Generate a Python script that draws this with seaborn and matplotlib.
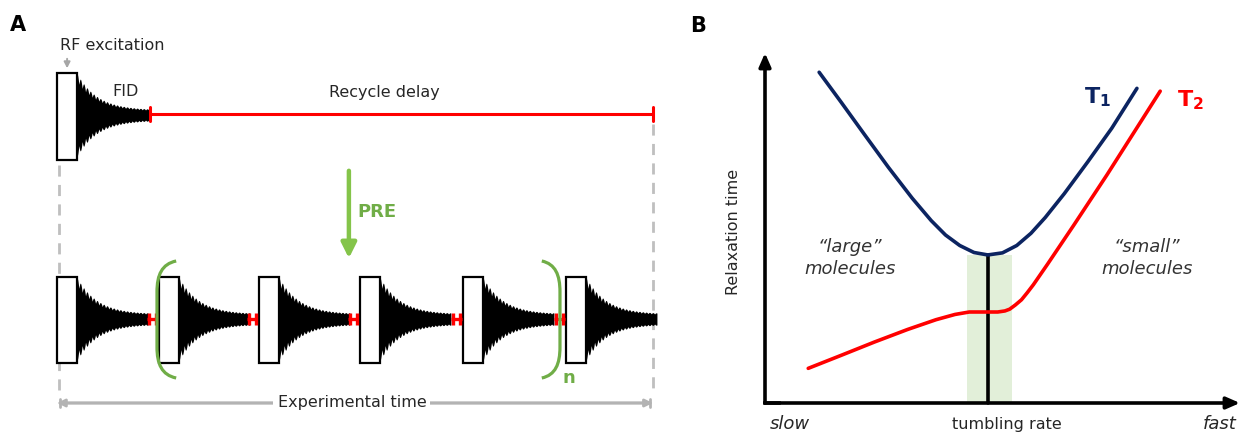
import numpy as np
import matplotlib
matplotlib.use("Agg")
import matplotlib.pyplot as plt
import seaborn as sns
import pandas as pd
from matplotlib.patches import Rectangle, PathPatch
from matplotlib.path import Path

sns.set_style("white")
plt.rcParams["font.family"] = ["DejaVu Sans"]
plt.rcParams["mathtext.fontset"] = "dejavusans"

# ---------------- Panel A: pulse sequence (time units) ----------------
pulse_starts = [0.0, 1.01, 2.0, 3.0, 4.02, 5.04]   # bottom row excitations
pulse_width = 0.2
fid_length = 0.7
short_delay = 0.1
top_fid_end = 0.92
recycle_end = 5.9
bracket_left = 0.99
bracket_right = 4.98

# ---------------- Panel B: relaxation curves ----------------
t1_rate = [1.14, 1.6, 2.1, 2.6, 3.1, 3.5, 3.8, 4.1, 4.4, 4.69,
           5.0, 5.3, 5.6, 5.9, 6.3, 6.8, 7.3, 7.83]
t1_time = [9.45, 8.60, 7.66, 6.73, 5.85, 5.21, 4.80, 4.50, 4.30, 4.23,
           4.29, 4.50, 4.85, 5.30, 5.98, 6.90, 7.85, 8.99]
t2_rate = [0.91, 1.6, 2.3, 3.0, 3.6, 4.0, 4.3, 4.6, 4.9, 5.05, 5.15, 5.27,
           5.4, 5.52, 5.65, 5.95, 6.5, 7.2, 7.8, 8.32]
t2_time = [0.99, 1.36, 1.74, 2.10, 2.38, 2.53, 2.60, 2.60, 2.60, 2.63, 2.68,
           2.80, 2.95, 3.15, 3.38, 3.97, 5.08, 6.52, 7.80, 8.91]
band_rate = [4.25, 5.19]
t1_min_rate = 4.69
t1_min_time = 4.23

NAVY = "#0c2461"
RED = "#ff0000"
GREEN = "#70ad47"
GREEN_ARROW = "#84c44a"
BAND = "#e2efd9"
GREY = "#bfbfbf"
TEXT = "#262626"

W, H = 1242, 436
fig = plt.figure(figsize=(W / 100, H / 100), dpi=100)

# ---------- Panel A ----------
ax_a = fig.add_axes([0, 0, 690 / W, 1])
ax_a.set_xlim(-57 / 101, 633 / 101)
ax_a.set_ylim(436, 0)
ax_a.axis("off")


def draw_pulse(ax, t0, y_top, height):
    ax.add_patch(Rectangle((t0, y_top), pulse_width, height, facecolor="white",
                           edgecolor="black", lw=1.6, zorder=3))


def draw_fid(ax, t0, length, yc, amp):
    t = np.linspace(0, length, 1500)
    env = amp * (0.86 * np.exp(-t / 0.2) + 0.12)
    ripple = 0.8 + 0.2 * np.abs(np.cos(np.pi * t / 0.033))
    ax.fill_between(t0 + t, yc - env * ripple, yc + env * ripple,
                    color="black", lw=0, zorder=2)


def draw_h(ax, t0, yc):
    ax.plot([t0, t0 + short_delay], [yc, yc], color=RED, lw=2.4,
            solid_capstyle="butt", zorder=4)
    for tx in (t0 + 0.012, t0 + short_delay - 0.012):
        ax.plot([tx, tx], [yc - 6, yc + 6], color=RED, lw=2.4,
                solid_capstyle="butt", zorder=4)


# top row
top_y, top_h, top_c = 73, 87, 115
draw_fid(ax_a, pulse_width, top_fid_end - pulse_width, top_c, 42)
draw_pulse(ax_a, 0.0, top_y, top_h)
ax_a.plot([top_fid_end, recycle_end], [top_c - 1, top_c - 1], color=RED,
          lw=2.2, zorder=4)
for tx in (top_fid_end, recycle_end):
    ax_a.plot([tx, tx], [top_c - 8, top_c + 6], color=RED, lw=2.2, zorder=4)

# bottom row
bot_y, bot_h, bot_c = 277, 86, 319
for i, t0 in enumerate(pulse_starts):
    draw_fid(ax_a, t0 + pulse_width, fid_length, bot_c, 42)
    draw_pulse(ax_a, t0, bot_y, bot_h)
    if i < len(pulse_starts) - 1:
        draw_h(ax_a, pulse_starts[i + 1] - short_delay - 0.015, bot_c)

# dashed guides
ax_a.plot([0.02, 0.02], [165, 395], color=GREY, lw=2, ls=(0, (4, 3)), zorder=1)
ax_a.plot([recycle_end, recycle_end], [124, 395], color=GREY, lw=2,
          ls=(0, (4, 3)), zorder=1)

# RF excitation label and arrow
ax_a.text(0.55, 46, "RF excitation", ha="center", va="center", fontsize=11.5,
          color=TEXT)
ax_a.annotate("", xy=(0.10, 71), xytext=(0.10, 56),
              arrowprops=dict(arrowstyle="-|>,head_width=0.18,head_length=0.35",
                              color="#a6a6a6", lw=1.4))
ax_a.text(0.68, 92, "FID", ha="center", va="center", fontsize=11.5, color=TEXT)
ax_a.text(3.24, 92, "Recycle delay", ha="center", va="center", fontsize=11.5,
          color=TEXT)

# PRE arrow
ax_a.annotate("", xy=(2.89, 261), xytext=(2.89, 168),
              arrowprops=dict(arrowstyle="-|>,head_width=0.45,head_length=0.9",
                              color=GREEN_ARROW, lw=3.2))
ax_a.text(3.17, 212, "PRE", ha="center", va="center", fontsize=13,
          fontweight="bold", color=GREEN)


# repeat brackets
def bracket(ax, xv, xe, y0, y1):
    dx = xe - xv
    verts = [(xe, y0), (xv + 0.25 * dx, y0 + 3), (xv, y0 + 14), (xv, y0 + 31),
             (xv, y1 - 31), (xv, y1 - 14), (xv + 0.25 * dx, y1 - 3), (xe, y1)]
    codes = [Path.MOVETO, Path.CURVE4, Path.CURVE4, Path.CURVE4, Path.LINETO,
             Path.CURVE4, Path.CURVE4, Path.CURVE4]
    ax.add_patch(PathPatch(Path(verts, codes), facecolor="none",
                           edgecolor=GREEN, lw=2.3, zorder=5))


bracket(ax_a, bracket_left, bracket_left + 0.19, 261, 378)
bracket(ax_a, bracket_right, bracket_right - 0.18, 261, 378)
ax_a.text(5.07, 378, "n", ha="center", va="center", fontsize=13,
          fontweight="bold", color=GREEN)

# experimental time span
ax_a.annotate("", xy=(recycle_end, 403), xytext=(0.0, 403),
              arrowprops=dict(arrowstyle="|-|,widthA=0.3,widthB=0.3",
                              color="#b3b3b3", lw=2))
ax_a.annotate("", xy=(recycle_end, 403), xytext=(0.0, 403),
              arrowprops=dict(arrowstyle="<|-|>,head_width=0.22,head_length=0.45",
                              color="#b3b3b3", lw=2, shrinkA=0, shrinkB=0))
ax_a.text(2.92, 402, "Experimental time", ha="center", va="center",
          fontsize=11.5, color=TEXT,
          bbox=dict(facecolor="white", edgecolor="none", pad=3))

# ---------- Panel B ----------
ax_b = fig.add_axes([700 / W, 0, 542 / W, 1])
ax_b.set_xlim((700 - 765) / 47.5, (1242 - 765) / 47.5)
ax_b.set_ylim((403 - 436) / 35, 403 / 35)
ax_b.axis("off")

ax_b.fill_between(band_rate, 0, t1_min_time, color=BAND, lw=0, zorder=1)
ax_b.plot([t1_min_rate, t1_min_rate], [0, t1_min_time], color="black", lw=2.6,
          zorder=3)

curves = pd.concat([
    pd.DataFrame({"rate": t1_rate, "time": t1_time, "curve": "T1"}),
    pd.DataFrame({"rate": t2_rate, "time": t2_time, "curve": "T2"}),
])
sns.lineplot(data=curves, x="rate", y="time", hue="curve",
             palette={"T1": NAVY, "T2": RED}, sort=False, lw=2.6,
             legend=False, ax=ax_b, zorder=4, solid_joinstyle="round")

# coordinate axes with arrow heads
for tip in [(0, 10.0), (10.0, 0)]:
    ax_b.annotate("", xy=tip, xytext=(0, 0),
                  arrowprops=dict(arrowstyle="-|>,head_width=0.35,head_length=0.8",
                                  color="black", lw=2.6, shrinkA=0, shrinkB=0),
                  zorder=5)
ax_b.plot([0, 0.3], [0, 0], color="black", lw=2.6, solid_capstyle="projecting")

ax_b.text(-0.67, 4.89, "Relaxation time", rotation=90, ha="center",
          va="center", fontsize=11.5, color=TEXT)
ax_b.text(0.53, -0.6, "slow", ha="center", va="center", fontsize=13,
          style="italic", color=TEXT)
ax_b.text(5.09, -0.6, "tumbling rate", ha="center", va="center", fontsize=11.5,
          color=TEXT)
ax_b.text(9.58, -0.6, "fast", ha="center", va="center", fontsize=13,
          style="italic", color=TEXT)

ax_b.text(1.79, 4.46, "\u201clarge\u201d", ha="center", va="center",
          fontsize=13, style="italic", color="#333333")
ax_b.text(1.79, 3.83, "molecules", ha="center", va="center", fontsize=13,
          style="italic", color="#333333")
ax_b.text(8.04, 4.46, "\u201csmall\u201d", ha="center", va="center",
          fontsize=13, style="italic", color="#333333")
ax_b.text(8.04, 3.83, "molecules", ha="center", va="center", fontsize=13,
          style="italic", color="#333333")

ax_b.text(6.99, 8.74, r"$\mathbf{T}_{\mathbf{1}}$", ha="center", va="center",
          fontsize=16, color=NAVY)
ax_b.text(8.95, 8.66, r"$\mathbf{T}_{\mathbf{2}}$", ha="center", va="center",
          fontsize=16, color=RED)

fig.text(18 / W, 1 - 25 / H, "A", ha="center", va="center", fontsize=15,
         fontweight="bold", color="black")
fig.text(698 / W, 1 - 26 / H, "B", ha="center", va="center", fontsize=15,
         fontweight="bold", color="black")

fig.savefig("out.png", dpi=100, facecolor="white")
